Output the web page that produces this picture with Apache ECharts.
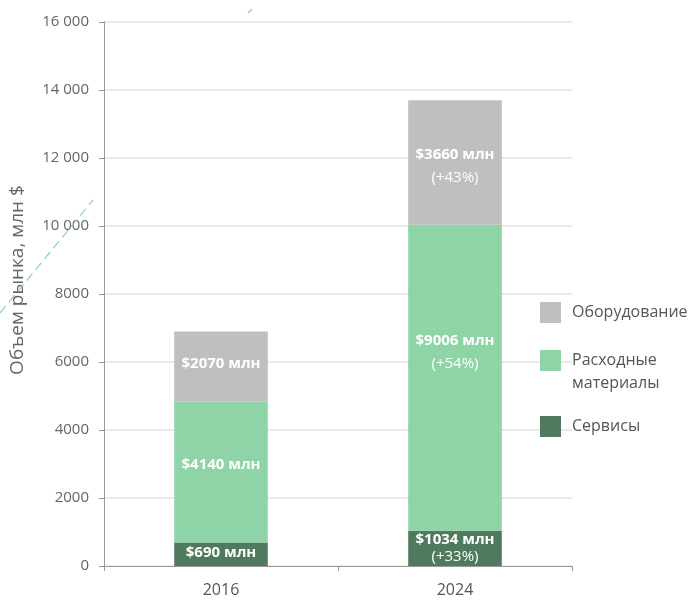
<!DOCTYPE html>
<html>
<head>
<meta charset="utf-8">
<script src="https://cdn.jsdelivr.net/npm/echarts@6/dist/echarts.min.js"></script>
<style>
  html, body { margin: 0; padding: 0; background: #fff; }
  #chart { width: 695px; height: 600px; }
</style>
</head>
<body>
<div id="chart"></div>
<script>
// Market volume by segment, USD million
const years = ['2016', '2024'];
const services = [690, 1034];
const consumables = [4140, 9006];
const equipment = [2070, 3660];
// Growth labels shown under the 2024 values
const servicesGrowth = ['', '+33%'];
const consumablesGrowth = ['', '+54%'];
const equipmentGrowth = ['', '+43%'];
// Y axis tick labels
const yTickValues = [0, 2000, 4000, 6000, 8000, 10000, 12000, 14000, 16000];
const yTickLabels = ['0', '2000', '4000', '6000', '8000', '10 000', '12 000', '14 000', '16 000'];

const FONT = 'Open Sans';

function labelText(value, growth) {
  let s = '{b|$' + value + ' млн}';
  if (growth) s += '\n{p|(' + growth + ')}';
  return s;
}

function buildData(values, growth, offsets, lineHeights) {
  return values.map((v, i) => ({
    value: v,
    label: {
      formatter: labelText(v, growth[i]),
      offset: [0, offsets[i]],
      rich: {
        b: { color: '#fff', fontWeight: 'bold', fontSize: 15, fontFamily: FONT, lineHeight: lineHeights[i] },
        p: { color: '#fff', fontSize: 15, fontFamily: FONT, lineHeight: lineHeights[i] }
      }
    }
  }));
}

const chart = echarts.init(document.getElementById('chart'));

const baseLabel = { show: true, position: 'inside' };
const legendText = { color: '#555', fontSize: 16, fontFamily: FONT, padding: [0, 0, 0, 6] };

chart.setOption({
  animation: false,
  backgroundColor: '#fff',
  grid: { left: 104, right: 123, top: 22, bottom: 34, containLabel: false, outerBoundsMode: 'none' },
  legend: [
    {
      data: ['Оборудование'], orient: 'vertical', left: 540, top: 302, padding: 0,
      itemWidth: 21, itemHeight: 21, icon: 'rect', selectedMode: false,
      textStyle: legendText
    },
    {
      data: ['Расходные материалы'], orient: 'vertical', left: 540, top: 326, padding: 0,
      itemWidth: 21, itemHeight: 21, icon: 'rect', selectedMode: false,
      formatter: () => ' \nРасходные\nматериалы',
      textStyle: Object.assign({}, legendText, { lineHeight: 23 })
    },
    {
      data: ['Сервисы'], orient: 'vertical', left: 540, top: 416, padding: 0,
      itemWidth: 21, itemHeight: 21, icon: 'rect', selectedMode: false,
      textStyle: legendText
    }
  ],
  xAxis: {
    type: 'category',
    data: years,
    axisLine: { lineStyle: { color: '#999', width: 1 } },
    axisTick: { show: true, length: 5, lineStyle: { color: '#999' } },
    axisLabel: { color: '#555', fontSize: 16, fontFamily: FONT, margin: 16 }
  },
  yAxis: {
    type: 'value',
    min: 0, max: 16000, interval: 2000,
    name: 'Объем рынка, млн $',
    nameLocation: 'middle',
    nameGap: 77,
    nameTextStyle: { color: '#666', fontSize: 19, fontFamily: FONT, padding: [0, 0, 0, 28] },
    axisLine: { show: true, lineStyle: { color: '#999', width: 1 } },
    axisTick: { show: true, length: 5, lineStyle: { color: '#999' } },
    axisLabel: {
      color: '#666', fontSize: 15, fontFamily: FONT, margin: 15,
      formatter: v => { const i = yTickValues.indexOf(v); return i >= 0 ? yTickLabels[i] : String(v); }
    },
    splitLine: { show: true, lineStyle: { color: '#e4e4e4', width: 1.5 } }
  },
  series: [
    {
      name: 'Сервисы', type: 'bar', stack: 'total', barWidth: '40%',
      itemStyle: { color: '#507a5e' },
      label: baseLabel,
      data: buildData(services, servicesGrowth, [-2, 0], [17, 17])
    },
    {
      name: 'Расходные материалы', type: 'bar', stack: 'total',
      itemStyle: { color: '#8ed4a6' },
      label: baseLabel,
      data: buildData(consumables, consumablesGrowth, [-7, -26], [23, 23])
    },
    {
      name: 'Оборудование', type: 'bar', stack: 'total',
      itemStyle: { color: '#bfbfbf' },
      label: baseLabel,
      data: buildData(equipment, equipmentGrowth, [-3, 4], [23, 23])
    }
  ],
  graphic: [
    {
      type: 'line', z: 100,
      shape: { x1: 0, y1: 313, x2: 93, y2: 200 },
      style: { stroke: '#8fd4a8', lineWidth: 1.2, lineDash: [9, 5] }
    },
    {
      type: 'line', z: 100,
      shape: { x1: 248, y1: 13, x2: 252, y2: 9 },
      style: { stroke: '#8fd4a8', lineWidth: 1.2 }
    }
  ]
});
</script>
</body>
</html>
